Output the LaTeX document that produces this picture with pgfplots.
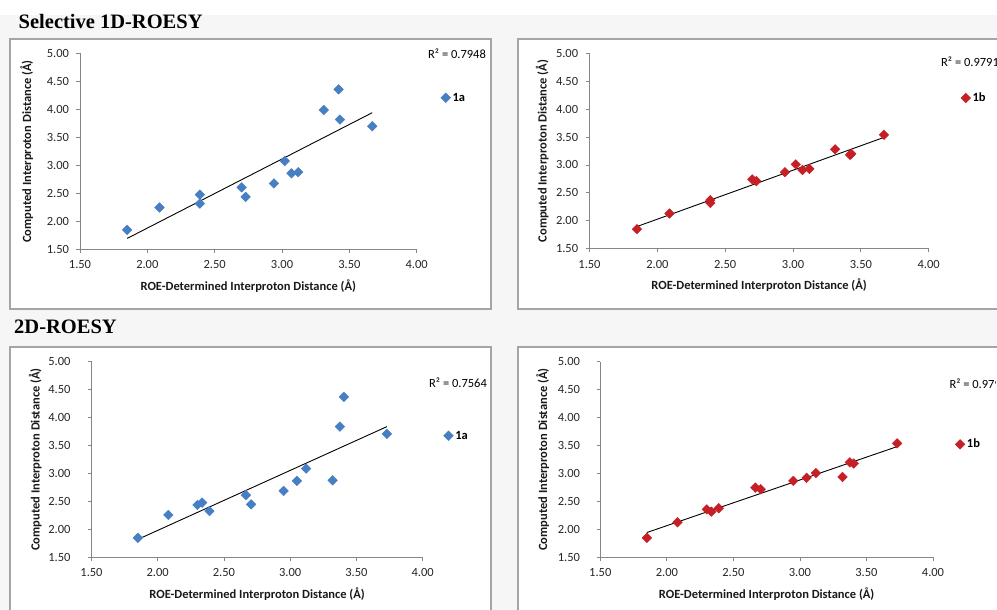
\documentclass[border=0pt]{standalone}
\usepackage{fontspec}
\setmainfont{Carlito}
\newfontfamily\titlefont{Liberation Serif}
\usepackage{pgfplots}
\usepackage{pgfplotstable}
\pgfplotsset{compat=1.18}
\definecolor{bluemk}{RGB}{70,127,194}
\definecolor{redmk}{RGB}{198,32,38}
\definecolor{axgray}{RGB}{134,134,134}
\definecolor{framegray}{RGB}{165,165,165}
\definecolor{bggray}{RGB}{246,246,246}
\newcommand\tlfont{\fontsize{12.5}{14}\selectfont}

% Selective 1D-ROESY, compound 1a
\pgfplotstableread{
x y
1.85 1.85
2.09 2.25
2.39 2.48
2.39 2.32
2.70 2.61
2.73 2.44
2.94 2.68
3.02 3.08
3.07 2.86
3.12 2.88
3.31 3.99
3.42 4.36
3.43 3.82
3.67 3.70
}\tabSa
% Selective 1D-ROESY, compound 1b
\pgfplotstableread{
x y
1.85 1.85
2.09 2.13
2.39 2.37
2.39 2.32
2.70 2.74
2.73 2.71
2.94 2.87
3.02 3.01
3.07 2.91
3.12 2.93
3.31 3.28
3.42 3.18
3.43 3.20
3.67 3.54
}\tabSb
% 2D-ROESY, compound 1a
\pgfplotstableread{
x y
1.85 1.85
2.08 2.26
2.30 2.44
2.335 2.48
2.39 2.33
2.665 2.615
2.705 2.45
2.95 2.69
3.05 2.87
3.12 3.09
3.32 2.88
3.375 3.84
3.405 4.37
3.73 3.71
}\tabTa
% 2D-ROESY, compound 1b
\pgfplotstableread{
x y
1.85 1.85
2.08 2.13
2.30 2.36
2.335 2.32
2.39 2.38
2.665 2.75
2.705 2.72
2.95 2.87
3.05 2.925
3.12 3.01
3.32 2.94
3.375 3.20
3.405 3.18
3.73 3.54
}\tabTb

\pgfplotsset{
  roe/.style={
    scale only axis, anchor=south west,
    xmin=1.5, xmax=4, ymin=1.5, ymax=5,
    xtick={1.5,2,...,4}, ytick={1.5,2,...,5},
    axis lines*=left,
    axis line style={draw=axgray, line width=0.8pt},
    tick align=outside, major tick length=3.5pt,
    tick style={draw=axgray, line width=0.8pt},
    tick label style={font=\tlfont, text=black!85},
    xticklabel style={yshift=-4.3pt},
    xticklabel={\pgfmathprintnumber[fixed, fixed zerofill, precision=2, assume math mode=true]{\tick}},
    yticklabel={\pgfmathprintnumber[fixed, fixed zerofill, precision=2, assume math mode=true]{\tick}},
    xlabel={ROE-Determined Interproton Distance (Å)},
    ylabel={Computed Interproton Distance (Å)},
    label style={font=\bfseries\fontsize{12.5}{14}\selectfont, text=black!90},
    clip=false,
    legend style={draw=none, fill=none, inner sep=0pt, outer sep=0pt,
      font=\bfseries\fontsize{12.5}{14}\selectfont, anchor=west},
    legend cell align=left,
  },
  mk/.style={only marks, mark=square*, mark size=3.4pt,
    mark options={rotate=45, draw=#1, fill=#1},
    legend image code/.code={\draw[##1] plot coordinates {(0pt,0pt)};}},
  trend/.style={black, line width=0.9pt, no markers, forget plot},
}

\begin{document}
\begin{tikzpicture}[x=1pt,y=1pt]
\useasboundingbox (0,0) rectangle (997,610);
\clip (0,0) rectangle (997,610);
\fill[bggray] (0,0) rectangle (997,595);
\fill[white] (0,595) rectangle (997,610);
% panel frames
\filldraw[fill=white, draw=framegray, line width=1.1pt] (10,571) rectangle (491,301);
\filldraw[fill=white, draw=framegray, line width=1.1pt] (518,571) rectangle (1010,301);
\filldraw[fill=white, draw=framegray, line width=1.1pt] (10,263) rectangle (491,-10);
\filldraw[fill=white, draw=framegray, line width=1.1pt] (518,263) rectangle (1010,-10);
% section titles
\node[anchor=base west, inner sep=0pt, font=\titlefont\bfseries\fontsize{20.5}{24}\selectfont] at (18.5,581.7) {Selective 1D-ROESY};
\node[anchor=base west, inner sep=0pt, font=\titlefont\bfseries\fontsize{20.5}{24}\selectfont] at (14,276) {2D-ROESY};

% Panel 1
\begin{axis}[roe, at={(80pt,360.5pt)}, width=336.7pt, height=196pt,
  yticklabel style={xshift=-4pt},
  xlabel style={at={(axis description cs:0.5,-0.185)}, anchor=center},
  ylabel style={at={(axis description cs:-0.158,0.5)}, anchor=center},
  legend style={at={(axis description cs:1.072,0.774)}}]
\addplot[mk=bluemk] table[x=x,y=y] {\tabSa};
\addlegendentry{1a}
\addplot[trend] table[x=x, y={create col/linear regression={y=y}}] {\tabSa};
\end{axis}
\node[anchor=west, inner sep=0pt, font=\tlfont] at (428,556.7) {R² = 0.7948};

% Panel 2
\begin{axis}[roe, at={(589.5pt,361.3pt)}, width=339.2pt, height=195.4pt,
  yticklabel style={xshift=-4.3pt},
  xlabel style={at={(axis description cs:0.5,-0.188)}, anchor=center},
  ylabel style={at={(axis description cs:-0.139,0.5)}, anchor=center},
  legend style={at={(axis description cs:1.0951,0.771)}}]
\addplot[mk=redmk] table[x=x,y=y] {\tabSb};
\addlegendentry{1b}
\addplot[trend] table[x=x, y={create col/linear regression={y=y}}] {\tabSb};
\end{axis}
\node[anchor=west, inner sep=0pt, font=\tlfont] at (941,548.3) {R² = 0.9791};

% Panel 3
\begin{axis}[roe, at={(91.5pt,52.5pt)}, width=331.2pt, height=195.8pt,
  yticklabel style={xshift=-14pt},
  xlabel style={at={(axis description cs:0.5,-0.186)}, anchor=center},
  ylabel style={at={(axis description cs:-0.170,0.5)}, anchor=center},
  legend style={at={(axis description cs:1.0634,0.6217)}}]
\addplot[mk=bluemk] table[x=x,y=y] {\tabTa};
\addlegendentry{1a}
\addplot[trend] table[x=x, y={create col/linear regression={y=y}}] {\tabTa};
\end{axis}
\node[anchor=west, inner sep=0pt, font=\tlfont] at (429,227.3) {R² = 0.7564};

% Panel 4
\begin{axis}[roe, at={(600.3pt,52.5pt)}, width=332.7pt, height=195.8pt,
  yticklabel style={xshift=-13.3pt},
  xlabel style={at={(axis description cs:0.5,-0.186)}, anchor=center},
  ylabel style={at={(axis description cs:-0.173,0.5)}, anchor=center},
  legend style={at={(axis description cs:1.067,0.578)}}]
\addplot[mk=redmk] table[x=x,y=y] {\tabTb};
\addlegendentry{1b}
\addplot[trend] table[x=x, y={create col/linear regression={y=y}}] {\tabTb};
\end{axis}
\begin{scope}
\clip (900,200) rectangle (995,250);
\node[anchor=west, inner sep=0pt, font=\tlfont] at (949.3,226.7) {R² = 0.9791};
\end{scope}
\end{tikzpicture}
\end{document}
